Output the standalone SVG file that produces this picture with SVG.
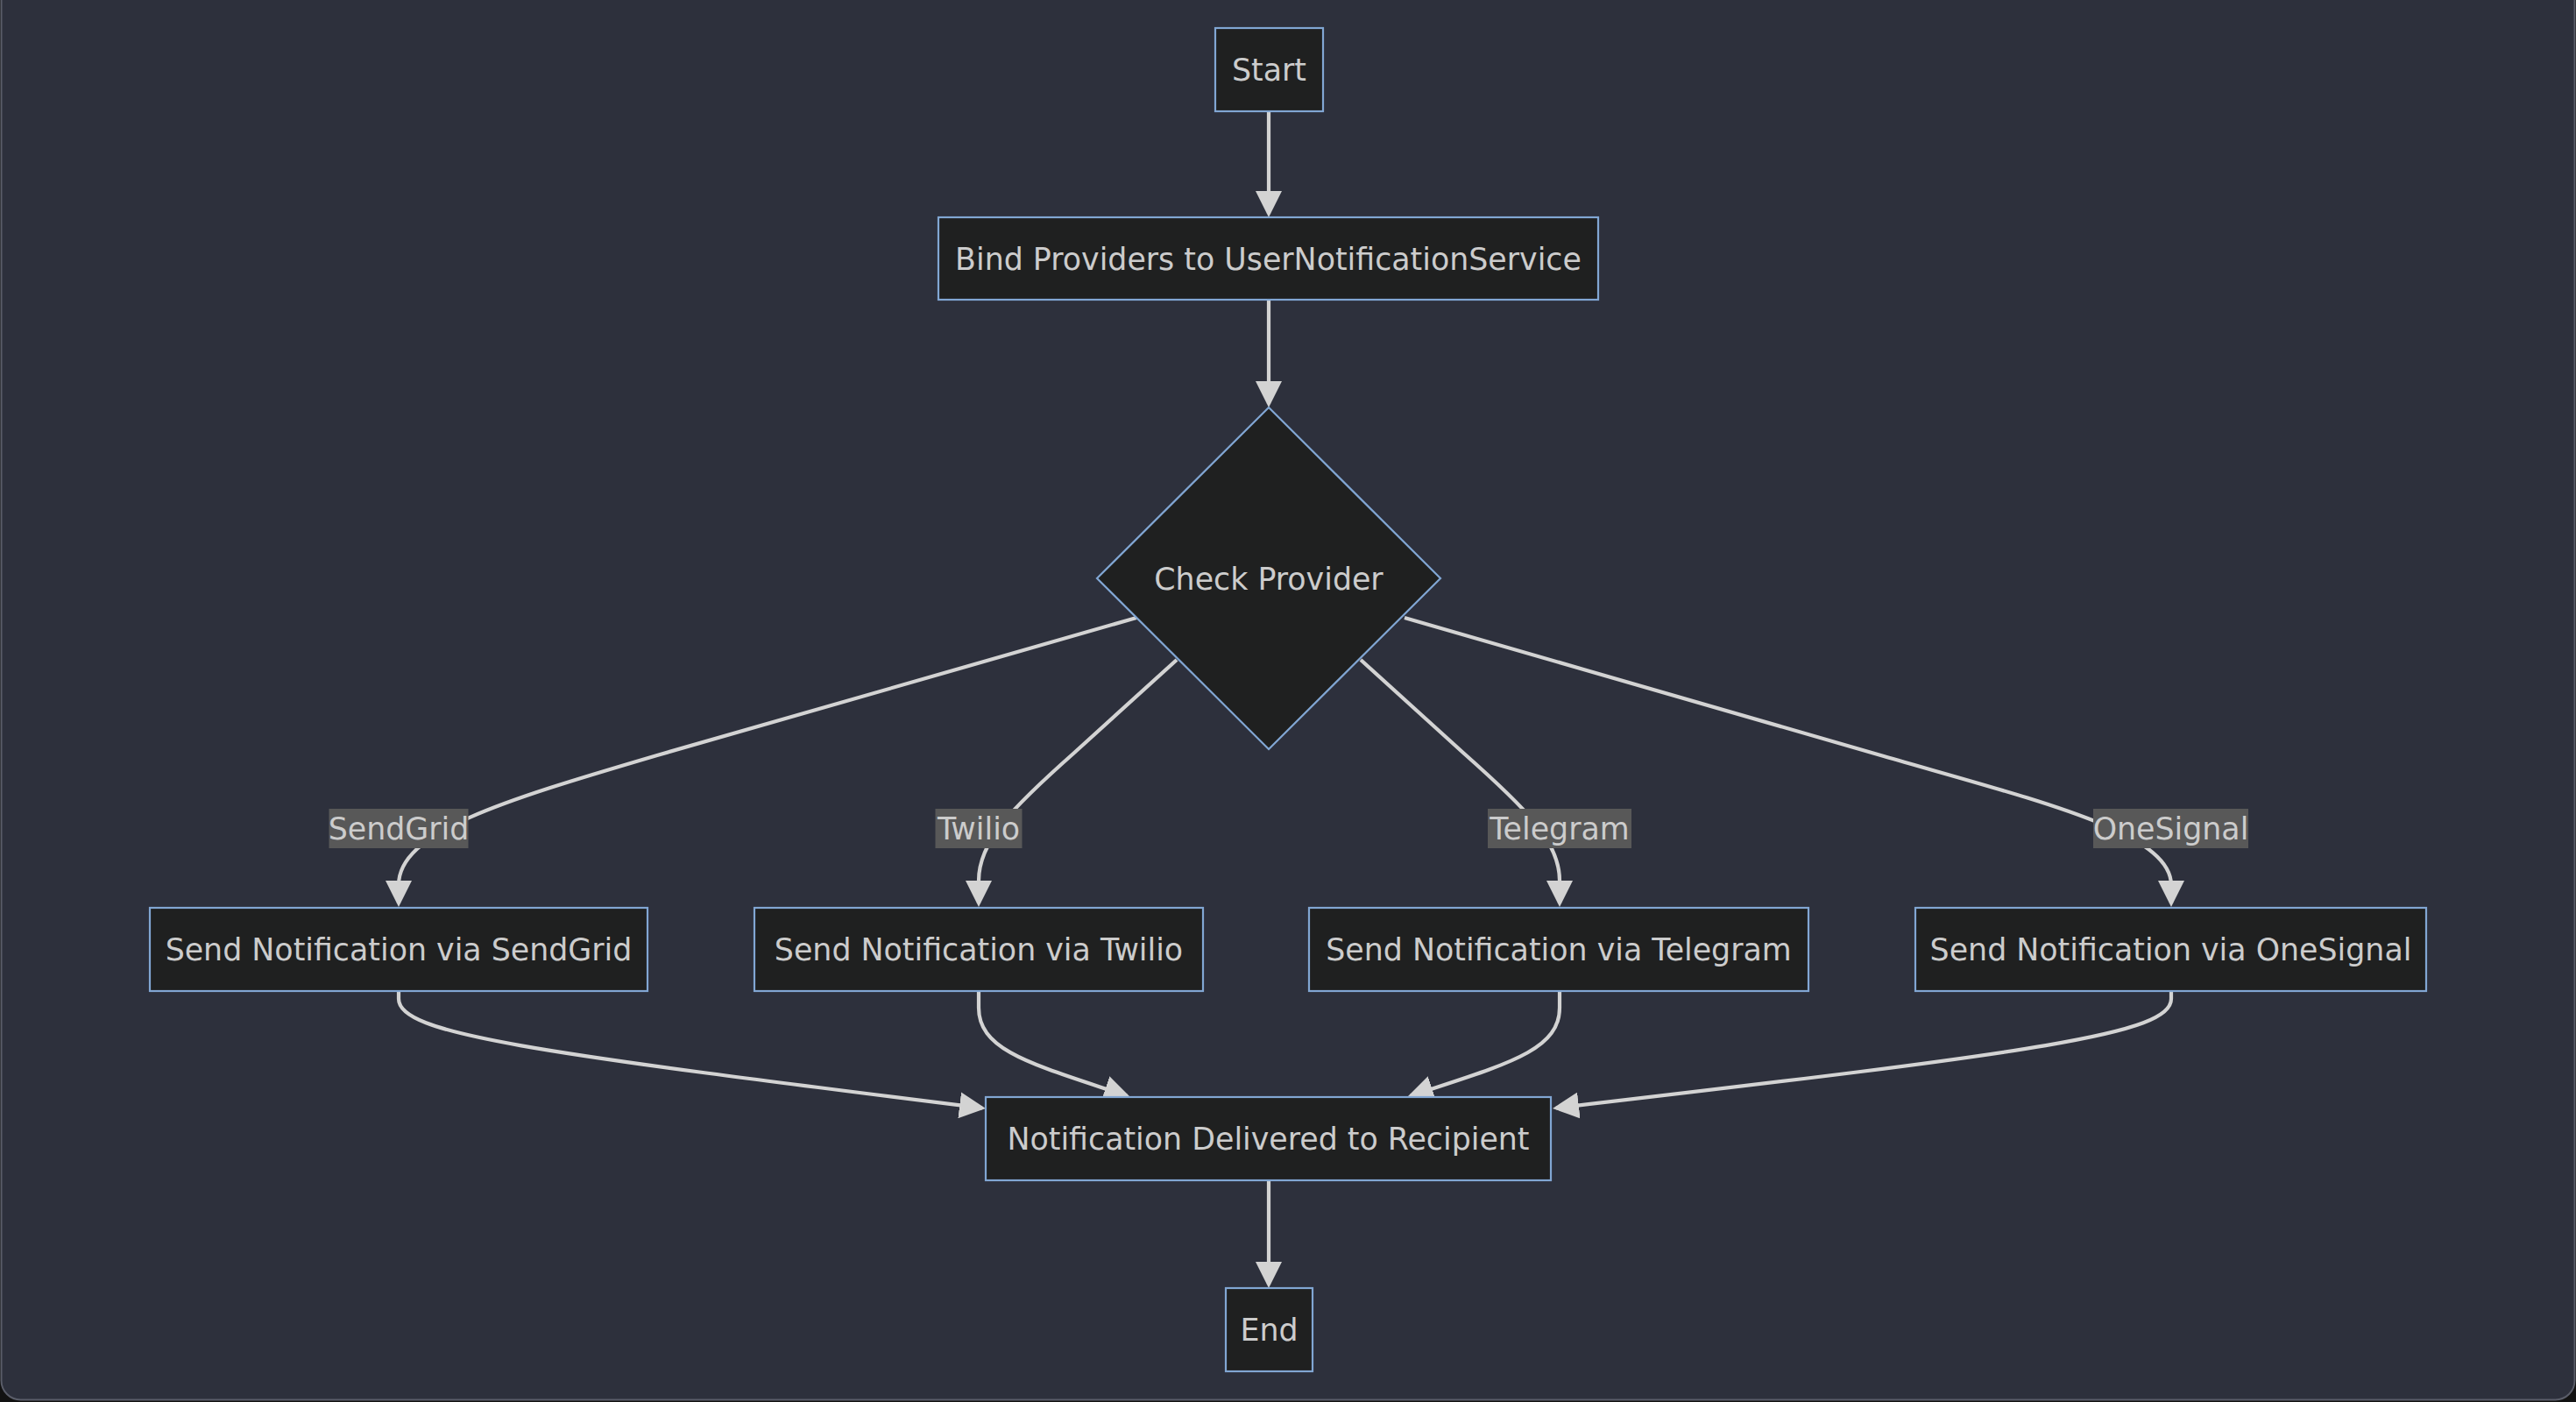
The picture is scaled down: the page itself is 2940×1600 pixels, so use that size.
<svg xmlns="http://www.w3.org/2000/svg" width="2940" height="1600" viewBox="0 0 2940 1600">
  <defs>
    <style>
      .node rect, .node polygon { fill: #1f2020; stroke: #81a6d3; stroke-width: 2.2; }
      .node text, .elabel text { font-family: "DejaVu Sans", Verdana, sans-serif; font-size: 34.8px; fill: #cccccc; text-anchor: middle; }
      .edge { fill: none; stroke: #d3d3d3; stroke-width: 4.2; marker-end: url(#arrow); }
      .elabel rect { fill: #585858; }
    </style>
    <marker id="arrow" viewBox="0 0 10 10" refX="8.667" refY="5" markerUnits="userSpaceOnUse" markerWidth="30" markerHeight="30" orient="auto">
      <path d="M0,0 L10,5 L0,10 z" fill="#d3d3d3"/>
    </marker>
  </defs>
  <rect x="0" y="0" width="2940" height="1600" fill="#121212"/>
  <rect x="1.5" y="-40" width="2937" height="1637.5" rx="22" fill="#2d303c" stroke="#5a5d69" stroke-width="2"/>

  <g id="connectors">
    <path class="edge" d="M1448,127 L1448,244"/>
    <path class="edge" d="M1448,342 L1448,461"/>
    <path class="edge" d="M1297,705 L750,862 C570,915 455,950 455,1010 L455,1031"/>
    <path class="edge" d="M1343,753 L1225,860 C1155,922 1117,960 1117,1005 L1117,1031"/>
    <path class="edge" d="M1553,753 L1671,860 C1741,922 1780,960 1780,1005 L1780,1031"/>
    <path class="edge" d="M1603,705 L2150,863 C2330,915 2478,950 2478,1010 L2478,1031"/>
    <path class="edge" d="M455,1131 L455,1140 C455,1180 603,1200 1121,1264.5"/>
    <path class="edge" d="M1117,1131 L1117,1150 C1117,1200 1180,1215 1286.2,1250.7"/>
    <path class="edge" d="M1780,1131 L1780,1150 C1780,1200 1717,1215 1609.8,1250.7"/>
    <path class="edge" d="M2478,1131 L2478,1140 C2478,1180 2330,1200 1776,1264.5"/>
    <path class="edge" d="M1448,1347 L1448,1466"/>
  </g>

  <g id="edge-labels">
    <g class="elabel" id="label-sendgrid"><rect x="375.5" y="923" width="159" height="45"/><text x="455" y="957.5">SendGrid</text></g>
    <g class="elabel" id="label-twilio"><rect x="1067.5" y="923" width="99" height="45"/><text x="1117" y="957.5">Twilio</text></g>
    <g class="elabel" id="label-telegram"><rect x="1698" y="923" width="164" height="45"/><text x="1780" y="957.5">Telegram</text></g>
    <g class="elabel" id="label-onesignal"><rect x="2389" y="923" width="177" height="45"/><text x="2477.5" y="957.5">OneSignal</text></g>
  </g>

  <g class="node" id="start"><rect x="1387" y="32" width="123" height="95"/><text x="1448.5" y="92">Start</text></g>
  <g class="node" id="bind"><rect x="1071" y="248" width="753" height="94"/><text x="1447.5" y="307.5">Bind Providers to UserNotificationService</text></g>
  <g class="node" id="check"><polygon points="1448,465 1644,660 1448,855 1252,660"/><text x="1448" y="672.5">Check Provider</text></g>
  <g class="node" id="sendgrid"><rect x="171" y="1036" width="568" height="95"/><text x="455" y="1096">Send Notification via SendGrid</text></g>
  <g class="node" id="twilio"><rect x="861" y="1036" width="512" height="95"/><text x="1117" y="1096">Send Notification via Twilio</text></g>
  <g class="node" id="telegram"><rect x="1494" y="1036" width="570" height="95"/><text x="1779" y="1096">Send Notification via Telegram</text></g>
  <g class="node" id="onesignal"><rect x="2186" y="1036" width="583" height="95"/><text x="2477.5" y="1096">Send Notification via OneSignal</text></g>
  <g class="node" id="delivered"><rect x="1125" y="1252" width="645" height="95"/><text x="1447.5" y="1312">Notification Delivered to Recipient</text></g>
  <g class="node" id="end"><rect x="1399" y="1470" width="99" height="95"/><text x="1448.5" y="1530">End</text></g>
</svg>
